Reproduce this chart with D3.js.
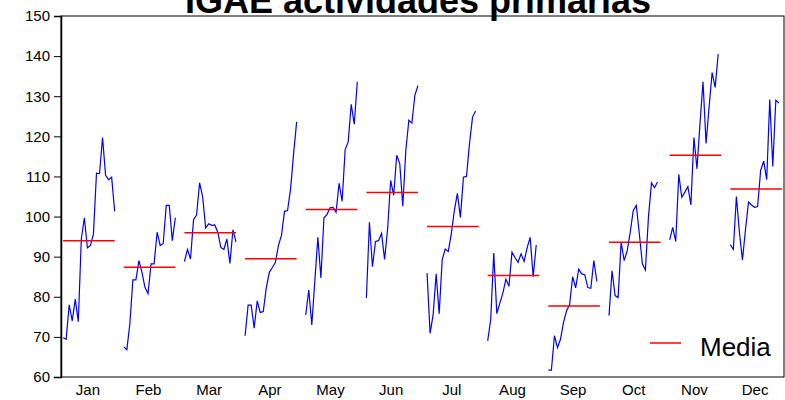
<!DOCTYPE html>
<html>
<head>
<meta charset="utf-8">
<script src="https://cdn.jsdelivr.net/npm/d3@7"></script>
<style>
  body { margin: 0; background: #fff; }
  text { font-family: "Liberation Sans", Arial, sans-serif; }
</style>
</head>
<body>
<svg id="chart" width="785" height="400"></svg>
<script>
// seasonal subseries of IGAE actividades primarias, one array per month
var months = ["Jan", "Feb", "Mar", "Apr", "May", "Jun", "Jul", "Aug", "Sep", "Oct", "Nov", "Dec"];

var jan = [69.8, 69.4, 78, 74, 79.4, 73.8, 94.4, 99.7, 92.2, 92.8, 95.7, 110.8, 110.7, 119.7, 110.3, 109.2, 109.8, 101.3];
var feb = [67.5, 66.8, 73.2, 84.2, 84.2, 89, 86.1, 82.3, 80.8, 88.2, 88.2, 96.1, 92.8, 93.3, 102.8, 102.8, 94, 99.7];
var mar = [88.8, 91.8, 89.4, 99.2, 100.4, 108.4, 105, 97.2, 98.2, 97.8, 97.9, 96.1, 92.3, 91.8, 94.4, 88.3, 96.7, 93.7];
var apr = [70.3, 77.9, 77.9, 72.2, 79, 76.1, 76.3, 82.3, 86.1, 87.3, 88.6, 92.8, 95.3, 101.3, 101.5, 106.9, 115.7, 123.6];
var may = [75.5, 81.7, 73, 84, 94.8, 84.7, 99.7, 100.5, 102.2, 102.3, 101.1, 108.3, 103.8, 116.7, 118.6, 128, 123, 133.6];
var jun = [79.7, 98.6, 87.5, 93.8, 94, 95.8, 89.3, 96.9, 109, 105.3, 115.3, 113.2, 102.6, 116.5, 124, 123.3, 130.3, 132.6];
var jul = [85.9, 70.9, 75.5, 85.7, 75.8, 89.3, 91.9, 91.3, 95.7, 101.5, 105.8, 99.8, 109.8, 110, 118.2, 124.8, 126.3];
var aug = [69, 74.4, 90.9, 75.8, 78.4, 80.9, 84.4, 82.6, 91.1, 89.8, 88.6, 90.7, 88.8, 92.2, 94.8, 85, 92.9];
var sep = [61.7, 61.7, 70.3, 67.3, 69.4, 73.6, 76.5, 78, 85, 82.2, 86.9, 85.7, 85.5, 82.3, 82.1, 89, 83.8];
var oct = [75.3, 86.5, 80.3, 79.8, 93.6, 89, 91.5, 96.1, 101.5, 102.8, 95.7, 88.2, 86.7, 99.8, 108.4, 107.2, 108.6];
var nov = [94.2, 97.3, 93.8, 110.5, 104.8, 106.1, 107.5, 102.9, 119.7, 111.9, 123.2, 133.6, 118.2, 127.3, 135.9, 132.2, 140.5];
var dec = [93, 91.8, 105, 96.1, 89.2, 96.7, 103.6, 102.9, 102.3, 102.5, 111.5, 113.8, 109.2, 129.2, 112.5, 129, 128.3];

var series = [jan, feb, mar, apr, may, jun, jul, aug, sep, oct, nov, dec];
var yTicks = [60, 70, 80, 90, 100, 110, 120, 130, 140, 150];

var svg = d3.select("#chart");
var margin = {top: 16, right: 1, bottom: 23, left: 61};
var width = +svg.attr("width") - margin.left - margin.right;
var height = +svg.attr("height") - margin.top - margin.bottom;

// each month gets 18 slots plus 2 empty ones
var slot = 20;
var x = d3.scaleLinear().domain([-0.7, 12 * slot - 2.3]).range([0, width]);
var y = d3.scaleLinear().domain([60, 150]).range([height, 0]);

var g = svg.append("g")
  .attr("transform", "translate(" + margin.left + "," + margin.top + ")");

// title, partly cut off at the top
svg.append("text")
  .attr("x", 418)
  .attr("y", 13)
  .attr("text-anchor", "middle")
  .style("font-size", "36px")
  .style("font-weight", "bold")
  .text("IGAE actividades primarias");

// frame
g.append("rect")
  .attr("width", width)
  .attr("height", height)
  .attr("fill", "none")
  .attr("stroke", "#000")
  .attr("stroke-width", 1);

// y axis
var yAxis = g.append("g")
  .call(d3.axisLeft(y).tickValues(yTicks).tickSize(7).tickPadding(4));
yAxis.select(".domain").attr("stroke-width", 1.5);
yAxis.selectAll("text").style("font-size", "15px").attr("fill", "#000");

// month labels
var xAxis = g.append("g")
  .attr("transform", "translate(0," + height + ")")
  .call(d3.axisBottom(x)
    .tickValues(months.map(function(m, i) { return i * slot + 8; }))
    .tickFormat(function(d, i) { return months[i]; })
    .tickSize(0).tickPadding(7));
xAxis.select(".domain").remove();
xAxis.selectAll("text").style("font-size", "15px").attr("fill", "#000");

var line = d3.line()
  .x(function(d) { return x(d.pos); })
  .y(function(d) { return y(d.value); });

series.forEach(function(vals, m) {
  var pts = vals.map(function(v, i) { return {pos: m * slot + i, value: v}; });

  g.append("path")
    .attr("fill", "none")
    .attr("stroke", "#0000ff")
    .attr("stroke-width", 1.2)
    .attr("d", line(pts));

  // mean of the month
  var mean = d3.mean(vals);
  g.append("line")
    .attr("x1", x(m * slot))
    .attr("x2", x(m * slot + 17))
    .attr("y1", y(mean))
    .attr("y2", y(mean))
    .attr("stroke", "#ff0000")
    .attr("stroke-width", 1.5);
});

// legend
svg.append("line")
  .attr("x1", 650).attr("x2", 681)
  .attr("y1", 343).attr("y2", 343)
  .attr("stroke", "#ff0000")
  .attr("stroke-width", 1.5);

svg.append("text")
  .attr("x", 700)
  .attr("y", 356)
  .style("font-size", "26px")
  .text("Media");
</script>
</body>
</html>
